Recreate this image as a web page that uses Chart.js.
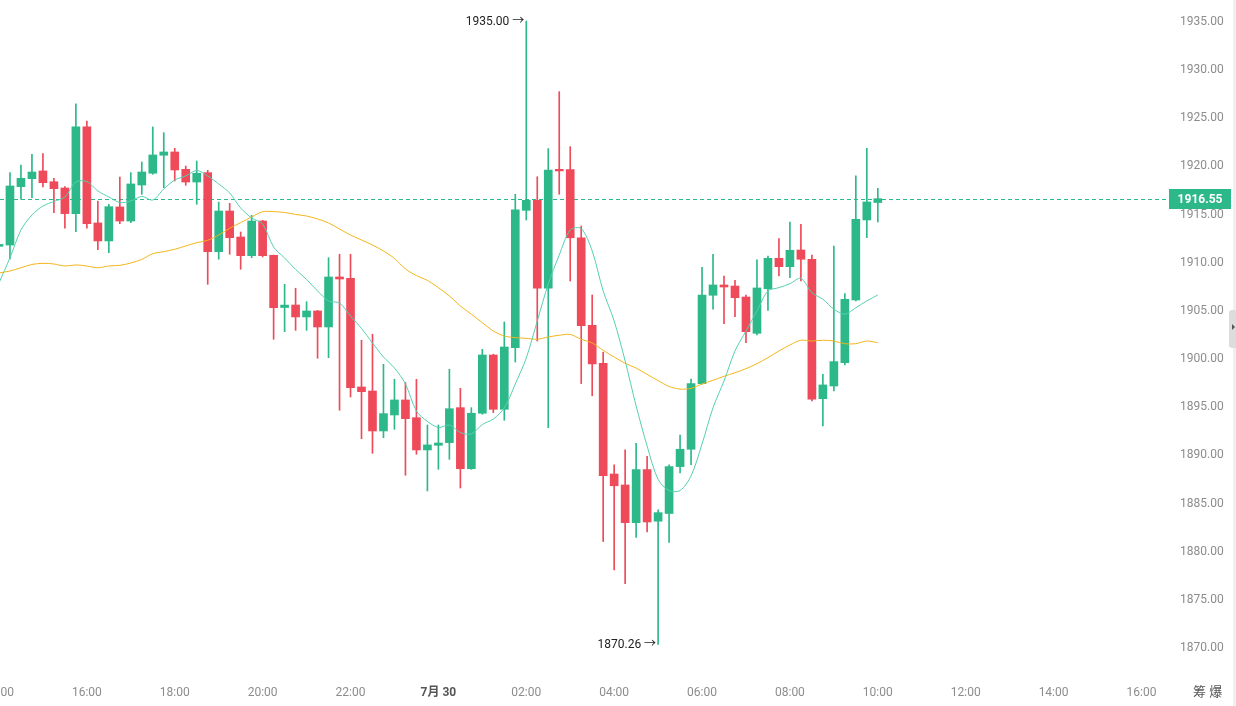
<!DOCTYPE html>
<html>
<head>
<meta charset="utf-8">
<script src="https://cdn.jsdelivr.net/npm/chart.js@4.4.1/dist/chart.umd.min.js"></script>
<style>
  html, body { margin: 0; padding: 0; background: #fff; }
  #wrap { position: relative; width: 1236px; height: 706px; }
</style>
</head>
<body>
<div id="wrap"><canvas id="chartJSContainer" width="1236" height="706"></canvas></div>
<script>
// 15 minute candles, 29 Jul 14:00 -> 30 Jul 10:00
var times = [
  "14:00","14:15","14:30","14:45","15:00","15:15","15:30","15:45","16:00","16:15",
  "16:30","16:45","17:00","17:15","17:30","17:45","18:00","18:15","18:30","18:45",
  "19:00","19:15","19:30","19:45","20:00","20:15","20:30","20:45","21:00","21:15",
  "21:30","21:45","22:00","22:15","22:30","22:45","23:00","23:15","23:30","23:45",
  "00:00","00:15","00:30","00:45","01:00","01:15","01:30","01:45","02:00","02:15",
  "02:30","02:45","03:00","03:15","03:30","03:45","04:00","04:15","04:30","04:45",
  "05:00","05:15","05:30","05:45","06:00","06:15","06:30","06:45","07:00","07:15",
  "07:30","07:45","08:00","08:15","08:30","08:45","09:00","09:15","09:30","09:45",
  "10:00"
];
var openV = [
  1911.6, 1911.74, 1917.8, 1918.63, 1919.43, 1918.31, 1917.66, 1915.0, 1924.0, 1914.03,
  1912.16, 1915.69, 1914.23, 1917.97, 1919.19, 1921.06, 1921.4, 1919.6, 1918.28, 1919.25,
  1911.05, 1915.27, 1912.57, 1910.63, 1914.23, 1910.67, 1905.25, 1905.51, 1904.27, 1904.89,
  1903.23, 1908.42, 1908.28, 1897.0, 1896.58, 1892.43, 1894.09, 1895.65, 1893.81, 1890.46,
  1890.94, 1891.22, 1894.85, 1888.51, 1894.27, 1900.32, 1894.68, 1901.08, 1915.34, 1916.38,
  1907.25, 1919.6, 1919.57, 1912.49, 1903.4, 1899.46, 1887.96, 1886.82, 1882.91, 1888.42,
  1883.06, 1883.86, 1888.73, 1890.53, 1897.35, 1906.52, 1907.59, 1907.48, 1906.34, 1902.57,
  1907.2, 1910.36, 1909.49, 1911.22, 1910.26, 1895.78, 1897.1, 1899.52, 1906.03, 1914.34,
  1916.15
];
var highV = [
  1912.4, 1919.25, 1920.05, 1921.16, 1921.22, 1918.67, 1917.8, 1926.41, 1924.62, 1916.31,
  1915.97, 1918.8, 1919.25, 1920.36, 1924.0, 1923.4, 1921.78, 1919.94, 1920.46, 1919.5,
  1916.2, 1916.07, 1913.09, 1914.82, 1914.3, 1910.7, 1907.66, 1907.25, 1905.85, 1904.95,
  1910.42, 1910.78, 1910.78, 1901.85, 1902.47, 1899.35, 1897.8, 1897.45, 1897.8, 1893.05,
  1893.05, 1898.84, 1896.86, 1894.85, 1900.91, 1900.4, 1903.75, 1917.01, 1935.0, 1918.83,
  1921.74, 1927.66, 1921.95, 1913.71, 1906.55, 1900.61, 1888.92, 1890.46, 1891.14, 1889.8,
  1884.25, 1888.92, 1892.0, 1897.81, 1909.43, 1910.78, 1908.52, 1908.08, 1906.55, 1910.19,
  1910.6, 1912.4, 1914.13, 1913.89, 1910.7, 1898.32, 1911.64, 1906.69, 1918.91, 1921.78,
  1917.63
];
var lowV = [
  1911.0, 1910.29, 1916.49, 1916.65, 1917.76, 1915.1, 1913.48, 1913.12, 1913.48, 1911.25,
  1910.94, 1913.95, 1914.06, 1917.0, 1919.08, 1917.69, 1918.39, 1917.94, 1915.97, 1907.66,
  1910.26, 1910.78, 1909.22, 1910.42, 1910.5, 1901.95, 1902.74, 1902.88, 1902.88, 1899.98,
  1900.04, 1894.58, 1895.96, 1891.63, 1890.11, 1891.73, 1892.6, 1887.83, 1890.01, 1886.2,
  1888.45, 1889.49, 1886.51, 1888.45, 1894.16, 1894.33, 1893.54, 1899.59, 1914.34, 1901.77,
  1892.77, 1917.01, 1908.0, 1897.35, 1896.08, 1880.95, 1878.0, 1876.58, 1881.37, 1881.94,
  1870.26, 1880.87, 1888.08, 1888.92, 1897.3, 1905.07, 1903.57, 1904.3, 1901.6, 1902.4,
  1904.96, 1908.52, 1908.35, 1908.0, 1895.54, 1892.95, 1896.58, 1899.28, 1905.93, 1912.5,
  1914.13
];
var closeV = [
  1911.8, 1917.87, 1918.67, 1919.32, 1918.21, 1917.59, 1915.0, 1924.0, 1913.95, 1912.16,
  1915.72, 1914.23, 1918.08, 1919.32, 1921.09, 1921.4, 1919.53, 1918.28, 1919.19, 1911.05,
  1915.27, 1912.5, 1910.63, 1914.23, 1910.63, 1905.23, 1905.5, 1904.27, 1904.89, 1903.23,
  1908.42, 1908.21, 1896.93, 1896.51, 1892.43, 1894.23, 1895.65, 1893.71, 1890.46, 1890.98,
  1891.18, 1894.74, 1888.51, 1894.27, 1900.32, 1894.68, 1901.15, 1915.38, 1916.38, 1907.25,
  1919.53, 1919.43, 1912.49, 1903.37, 1899.39, 1887.78, 1886.74, 1882.91, 1888.42, 1882.98,
  1883.95, 1888.73, 1890.53, 1897.35, 1906.55, 1907.59, 1907.38, 1906.27, 1902.74, 1907.28,
  1910.36, 1909.49, 1911.19, 1910.26, 1895.72, 1897.21, 1899.63, 1906.1, 1914.41, 1916.21,
  1916.55
];
// moving average lines
var maFast = [
  1907.8, 1910.42, 1913.3, 1914.86, 1915.79, 1916.26, 1916.73, 1918.28, 1918.33, 1917.35,
  1916.73, 1916.15, 1916.31, 1916.78, 1916.41, 1917.56, 1918.49, 1918.91, 1919.48, 1918.91,
  1918.08, 1917.14, 1915.58, 1914.55, 1913.92, 1911.53, 1910.39, 1909.2, 1908.16, 1906.97,
  1905.93, 1905.72, 1904.37, 1903.07, 1901.57, 1900.11, 1898.97, 1897.31, 1894.5, 1893.42,
  1892.79, 1893.05, 1892.27, 1892.12, 1893.1, 1893.67, 1894.82, 1897.31, 1900.01, 1903.85,
  1907.69, 1910.7, 1913.3, 1913.45, 1911.12, 1906.97, 1903.85, 1899.7, 1895.03, 1890.87,
  1887.39, 1886.24, 1886.24, 1887.76, 1891.08, 1894.85, 1897.62, 1900.74, 1902.81, 1904.89,
  1906.97, 1907.31, 1907.72, 1908.28, 1906.79, 1906.1, 1905.07, 1904.55, 1905.23, 1905.93,
  1906.55
];
var maSlow = [
  1908.83, 1909.04, 1909.38, 1909.72, 1909.84, 1909.77, 1909.56, 1909.67, 1909.56, 1909.38,
  1909.56, 1909.63, 1909.87, 1910.24, 1910.84, 1911.05, 1911.3, 1911.64, 1911.98, 1912.23,
  1912.78, 1913.48, 1914.06, 1914.65, 1915.2, 1915.2, 1915.12, 1914.91, 1914.75, 1914.44,
  1914.03, 1913.4, 1912.78, 1912.26, 1911.74, 1911.12, 1910.34, 1909.25, 1908.57, 1908.06,
  1907.31, 1906.45, 1905.41, 1904.55, 1903.67, 1902.81, 1902.29, 1902.12, 1902.05, 1901.95,
  1902.19, 1902.37, 1902.45, 1901.95, 1901.57, 1900.8, 1900.11, 1899.46, 1898.96, 1898.31,
  1897.66, 1897.05, 1896.78, 1896.85, 1897.31, 1897.69, 1898.11, 1898.48, 1898.9, 1899.42,
  1900.04, 1900.74, 1901.36, 1901.85, 1901.77, 1901.85, 1901.77, 1901.49, 1901.49, 1901.77,
  1901.6
];
var xTickValues = [-10, -8, -6, -4, -2, 0, 2, 4, 6, 8, 10, 12, 14, 16];
var xTickLabels = ["14:00", "16:00", "18:00", "20:00", "22:00", "7月 30", "02:00", "04:00",
                   "06:00", "08:00", "10:00", "12:00", "14:00", "16:00"];
var yTicks = [1870, 1875, 1880, 1885, 1890, 1895, 1900, 1905, 1910, 1915, 1920, 1925, 1930, 1935];

var UP = "#2db88a", DOWN = "#ee4a59";
var FONT = "Roboto, 'Noto Sans', 'Noto Sans CJK SC', sans-serif";

// hours relative to 30 Jul 00:00
function toHour(s) {
  var p = s.split(":");
  var h = +p[0] + (+p[1]) / 60;
  return h >= 14 ? h - 24 : h;
}
var xs = times.map(toHour);
var candleColors = closeV.map(function (c, i) { return c >= openV[i] ? UP : DOWN; });

var wickData = xs.map(function (x, i) { return { x: x, y: [lowV[i], highV[i]] }; });
var bodyData = xs.map(function (x, i) { return { x: x, y: [openV[i], closeV[i]] }; });
var fastData = xs.map(function (x, i) { return { x: x, y: maFast[i] }; });
var slowData = xs.map(function (x, i) { return { x: x, y: maSlow[i] }; });

var extras = {
  id: "extras",
  beforeDatasetsDraw: function (chart) {
    var c = chart.ctx, a = chart.chartArea, y = chart.scales.y;
    var py = Math.round(y.getPixelForValue(closeV[closeV.length - 1])) + 0.5;
    c.save();
    c.strokeStyle = UP;
    c.lineWidth = 1;
    c.setLineDash([4, 3]);
    c.beginPath();
    c.moveTo(a.left, py);
    c.lineTo(a.right + 4, py);
    c.stroke();
    c.restore();
  },
  afterDraw: function (chart) {
    var c = chart.ctx, x = chart.scales.x, y = chart.scales.y;
    c.save();
    // high / low markers
    var hi = highV.indexOf(Math.max.apply(null, highV));
    var lo = lowV.indexOf(Math.min.apply(null, lowV));
    c.font = "12px " + FONT;
    c.fillStyle = "#222";
    c.textAlign = "right";
    c.textBaseline = "middle";
    c.fillText(highV[hi].toFixed(2) + " \u2192", x.getPixelForValue(xs[hi]) - 2, y.getPixelForValue(highV[hi]) + 1);
    c.fillText(lowV[lo].toFixed(2) + " \u2192", x.getPixelForValue(xs[lo]) - 2, y.getPixelForValue(lowV[lo]) + 1);
    // last price badge
    var last = closeV[closeV.length - 1];
    var py = Math.round(y.getPixelForValue(last));
    c.fillStyle = UP;
    c.fillRect(1169, py - 10, 62, 20);
    c.fillStyle = "#fff";
    c.font = "bold 12px " + FONT;
    c.textAlign = "center";
    c.fillText(last.toFixed(2), 1200, py + 1);
    // right edge strip and tab
    c.fillStyle = "#efefef";
    c.fillRect(1233, 0, 3, 706);
    c.fillStyle = "#dcdcdc";
    c.beginPath();
    c.roundRect(1229, 310, 8, 38, 3);
    c.fill();
    c.fillStyle = "#555";
    c.beginPath();
    c.moveTo(1232, 324); c.lineTo(1235, 327); c.lineTo(1232, 330);
    c.closePath();
    c.fill();
    // corner text
    c.font = "13px " + FONT;
    c.fillStyle = "#555";
    c.textAlign = "left";
    c.fillText("筹 爆", 1193, 693);
    c.restore();
  }
};

var options = {
  type: "bar",
  data: {
    datasets: [
      {
        type: "line", label: "MA fast", data: fastData,
        borderColor: "#55d0b2", borderWidth: 1, pointRadius: 0, tension: 0.3, order: 0
      },
      {
        type: "line", label: "MA slow", data: slowData,
        borderColor: "#f3b51a", borderWidth: 1, pointRadius: 0, tension: 0.3, order: 1
      },
      {
        label: "body", data: bodyData, backgroundColor: candleColors,
        barThickness: 8, grouped: false, order: 2
      },
      {
        label: "wick", data: wickData, backgroundColor: candleColors,
        barThickness: 1, grouped: false, order: 3
      }
    ]
  },
  options: {
    responsive: false,
    animation: false,
    devicePixelRatio: 1,
    layout: { padding: 0 },
    plugins: { legend: { display: false }, tooltip: { enabled: false } },
    scales: {
      x: {
        type: "linear",
        min: -9.977,
        max: 16.536,
        offset: false,
        grid: { display: false, drawTicks: false },
        border: { display: false },
        ticks: {
          padding: 16,
          autoSkip: false,
          maxRotation: 0,
          color: function (ctx) { return ctx.tick && ctx.tick.value === 0 ? "#555" : "#8c8c8c"; },
          font: function (ctx) {
            return { family: FONT, size: 12, weight: ctx.tick && ctx.tick.value === 0 ? "bold" : "normal" };
          },
          callback: function (v) { return xTickLabels[xTickValues.indexOf(v)]; }
        },
        afterBuildTicks: function (s) { s.ticks = xTickValues.map(function (v) { return { value: v }; }); },
        afterFit: function (s) { s.height = 36; s.paddingLeft = 0; s.paddingRight = 0; }
      },
      y: {
        position: "right",
        min: 1867.61,
        max: 1937.18,
        grid: { display: false, drawTicks: false },
        border: { display: false },
        ticks: {
          padding: 15,
          labelOffset: 1,
          color: "#8c8c8c",
          font: { family: FONT, size: 12 },
          callback: function (v) { return v.toFixed(2); }
        },
        afterBuildTicks: function (s) { s.ticks = yTicks.map(function (v) { return { value: v }; }); },
        afterFit: function (s) { s.width = 71; s.paddingTop = 0; s.paddingBottom = 0; }
      }
    }
  },
  plugins: [extras]
};

var ctx = document.getElementById("chartJSContainer").getContext("2d");
new Chart(ctx, options);
</script>
</body>
</html>
